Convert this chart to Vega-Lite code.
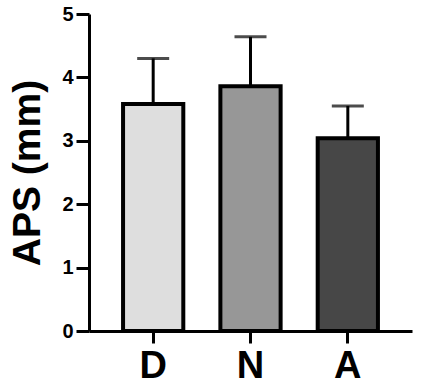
{
  "$schema": "https://vega.github.io/schema/vega-lite/v6.json",
  "autosize": {"type": "none"},
  "padding": {"left": 89, "top": 14, "right": 9, "bottom": 60},
  "width": 323,
  "height": 317,
  "background": "white",
  "config": {
    "view": {"stroke": null},
    "font": "Liberation Sans",
    "axis": {"grid": false, "domainColor": "black", "domainWidth": 3, "tickColor": "black", "tickWidth": 3, "labelColor": "black", "titleColor": "black", "labelFontWeight": "bold", "titleFontWeight": "bold", "labelFont": "Liberation Sans", "titleFont": "Liberation Sans"}
  },
  "data": {"values": [
    {"group": "D", "mean": 3.58, "upper": 4.30},
    {"group": "N", "mean": 3.86, "upper": 4.64},
    {"group": "A", "mean": 3.04, "upper": 3.55}
  ]},
  "encoding": {
    "x": {"field": "group", "type": "nominal", "sort": ["D", "N", "A"],
      "scale": {"paddingInner": 0.381, "paddingOuter": 0.35},
      "axis": {"title": null, "labelAngle": 0, "labelFontSize": 38, "tickSize": 12, "labelPadding": 4}}
  },
  "layer": [
    {
      "mark": {"type": "rule", "color": "black", "strokeWidth": 3},
      "encoding": {
        "y": {"field": "mean", "type": "quantitative"},
        "y2": {"field": "upper"}
      }
    },
    {
      "mark": {"type": "tick", "color": "black", "thickness": 3, "size": 32, "orient": "horizontal"},
      "encoding": {
        "y": {"field": "upper", "type": "quantitative"}
      }
    },
    {
      "mark": {"type": "bar", "stroke": "black", "strokeWidth": 4},
      "encoding": {
        "y": {"field": "mean", "type": "quantitative",
          "scale": {"domain": [0, 5], "nice": false},
          "axis": {"title": "APS (mm)", "values": [0, 1, 2, 3, 4, 5], "format": "d", "labelFontSize": 20, "tickSize": 13, "labelPadding": 3, "titleFontSize": 39, "titlePadding": 14}},
        "fill": {"field": "group", "type": "nominal", "legend": null,
          "scale": {"domain": ["D", "N", "A"], "range": ["#dedede", "#979797", "#474747"]}}
      }
    }
  ]
}
